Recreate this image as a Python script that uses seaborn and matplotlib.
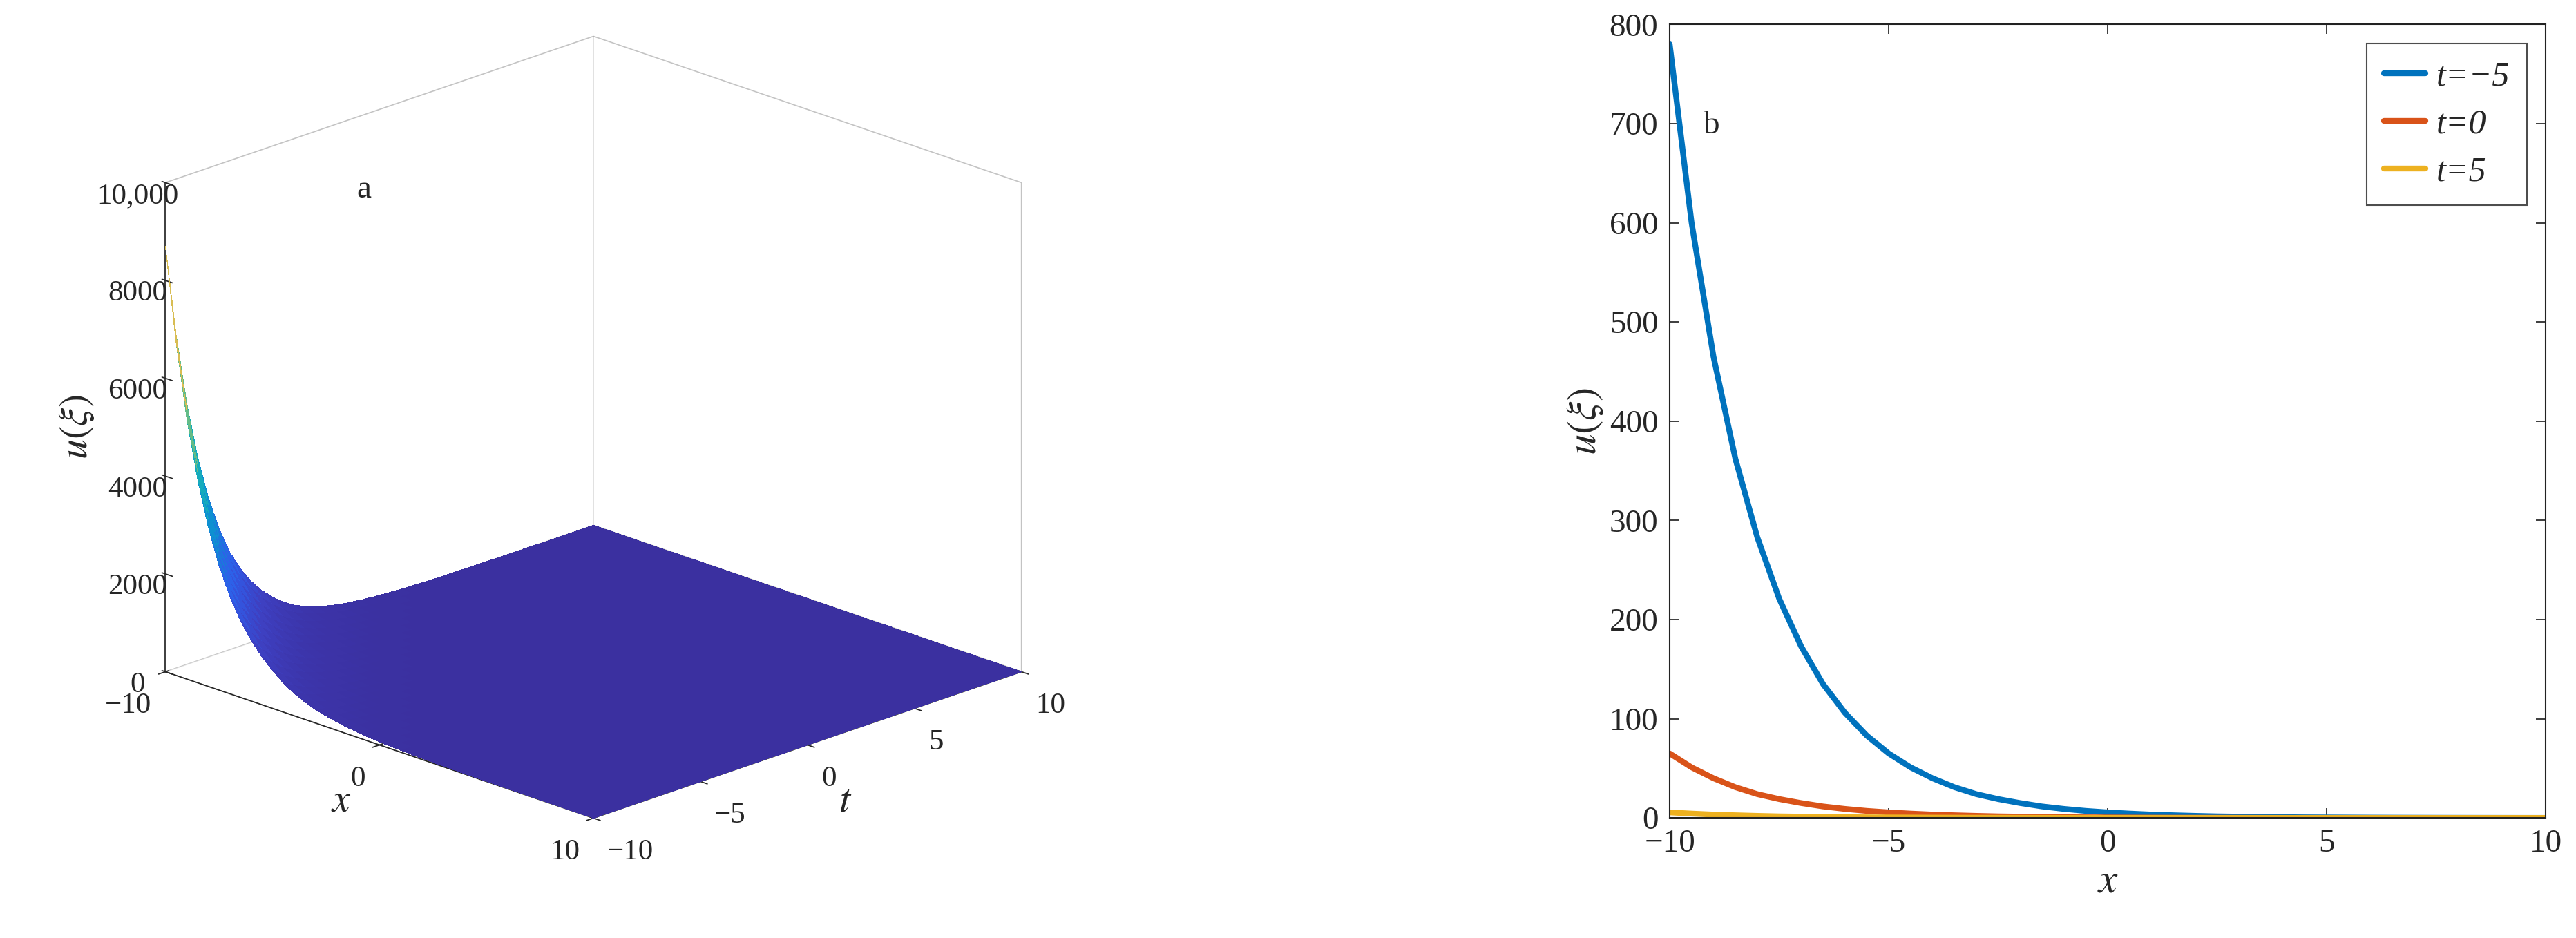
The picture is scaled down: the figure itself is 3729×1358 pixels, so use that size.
import numpy as np
import matplotlib
matplotlib.use("Agg")
import matplotlib.pyplot as plt
import seaborn as sns
from matplotlib.colors import LinearSegmentedColormap

# profile u along s = x + t (step 0.5 from -20 to 20)
s_vals = np.arange(-20, 20.5, 0.5)
u_profile = [
    8700, 6810, 5330, 4172, 3265, 2556, 2000, 1580, 1250, 985,
    780, 600, 465, 362, 283, 221, 173, 135, 106, 83,
    65, 51, 40, 31, 24, 19, 15, 11.6, 9.1, 7.1,
    5.6, 4.4, 3.4, 2.7, 2.1, 1.6, 1.3, 1.0, 0.8, 0.6,
    0.5, 0.4, 0.3, 0.24, 0.19, 0.15, 0.12, 0.09, 0.07, 0.05,
    0.04, 0.03, 0.03, 0.02, 0.02, 0.01, 0.01, 0.01, 0.01, 0.0,
    0.0, 0.0, 0.0, 0.0, 0.0, 0.0, 0.0, 0.0, 0.0, 0.0,
    0.0, 0.0, 0.0, 0.0, 0.0, 0.0, 0.0, 0.0, 0.0, 0.0, 0.0,
]
grid = np.arange(-10, 10.5, 0.5)
t_slices = [-5, 0, 5]
slice_labels = ["t=\u22125", "t=0", "t=5"]
slice_colors = ["#0072BD", "#D95319", "#EDB120"]

lookup = dict(zip(np.round(s_vals, 1), u_profile))

sns.set_theme(style="white")
plt.rcParams["font.family"] = ["Liberation Serif", "DejaVu Serif"]
plt.rcParams["mathtext.fontset"] = "stix"

parula = LinearSegmentedColormap.from_list(
    "parula",
    ["#3B30A0", "#3E3FC0", "#2F5EEA", "#1481D6", "#06A4CA", "#2EB7A4",
     "#87BF77", "#D1BB59", "#FEC832", "#F9FB0E"],
)

fig = plt.figure(figsize=(37.3, 13.58), dpi=100)

# panel a: 3D surface
X, T = np.meshgrid(grid, grid, indexing="ij")
Z = np.array([[lookup[round(x + t, 1)] for t in grid] for x in grid])
ax3 = fig.add_axes([-0.015, -0.01, 0.48, 1.08], projection="3d")
ax3.set_proj_type("ortho")
ax3.plot_surface(X, T, Z, cmap=parula, vmin=0, vmax=8700,
                 rstride=1, cstride=1, linewidth=0, antialiased=False,
                 shade=False)
ax3.view_init(elev=20, azim=-45)
ax3.set_box_aspect((1, 1, 0.86), zoom=0.96)
ax3.set_xlim(-10, 10)
ax3.set_ylim(-10, 10)
ax3.set_zlim(0, 10000)
ax3.set_xticks([-10, 0, 10])
ax3.set_yticks([-10, -5, 0, 5, 10])
ax3.set_zticks([0, 2000, 4000, 6000, 8000, 10000])
ax3.set_yticklabels(["\u221210", "\u22125", "0", "5", "10"])
ax3.set_xticklabels(["\u221210", "0", "10"])
ax3.set_zticklabels(["0", "2000", "4000", "6000", "8000", "10,000"])
ax3.tick_params(labelsize=31, pad=10)
for lab in ax3.get_xticklabels():
    lab.set_horizontalalignment("right")
for lab in ax3.get_yticklabels():
    lab.set_horizontalalignment("left")
ax3.set_xlabel("$x$", fontsize=42, labelpad=28)
ax3.set_ylabel("$t$", fontsize=42, labelpad=28)
ax3.set_zlabel("$u(\\xi)$", fontsize=42, labelpad=36)
ax3.zaxis._axinfo["juggled"] = (1, 2, 0)
for axis in (ax3.xaxis, ax3.yaxis, ax3.zaxis):
    axis.pane.set_facecolor((1, 1, 1, 0))
    axis.pane.set_edgecolor("#888888")
    axis.pane.set_linewidth(1.2)
    axis._axinfo["grid"]["color"] = (1, 1, 1, 0)
    axis._axinfo["axisline"]["color"] = "#555555"
ax3.text2D(0.28, 0.74, "a", transform=ax3.transAxes, fontsize=34)

# panel b: line slices
ax = fig.add_axes([0.648, 0.128, 0.340, 0.846])
for t0, lab, col in zip(t_slices, slice_labels, slice_colors):
    yv = [lookup[round(x + t0, 1)] for x in grid]
    sns.lineplot(x=grid, y=yv, ax=ax, color=col, linewidth=6, label=lab)
ax.set_xlim(-10, 10)
ax.set_ylim(0, 800)
ax.set_xticks([-10, -5, 0, 5, 10])
ax.set_xticklabels(["\u221210", "\u22125", "0", "5", "10"])
ax.set_yticks(range(0, 801, 100))
ax.tick_params(labelsize=34, direction="in", length=10, top=True, right=True,
               bottom=True, left=True, pad=12)
for sp in ax.spines.values():
    sp.set_color("#222222")
    sp.set_linewidth(1.5)
ax.set_xlabel("$x$", fontsize=44)
ax.set_ylabel("$u(\\xi)$", fontsize=44)
ax.text(-9.25, 690, "b", fontsize=34)
leg = ax.legend(loc="upper right", prop={"size": 36, "style": "italic"},
                frameon=True, fancybox=False, handlelength=1.2,
                handletextpad=0.3, borderpad=0.5, labelspacing=0.45,
                bbox_to_anchor=(0.998, 0.998))
leg.get_frame().set_edgecolor("#222222")
leg.get_frame().set_linewidth(1.5)

fig.savefig("out.png", dpi=100, facecolor="white")
